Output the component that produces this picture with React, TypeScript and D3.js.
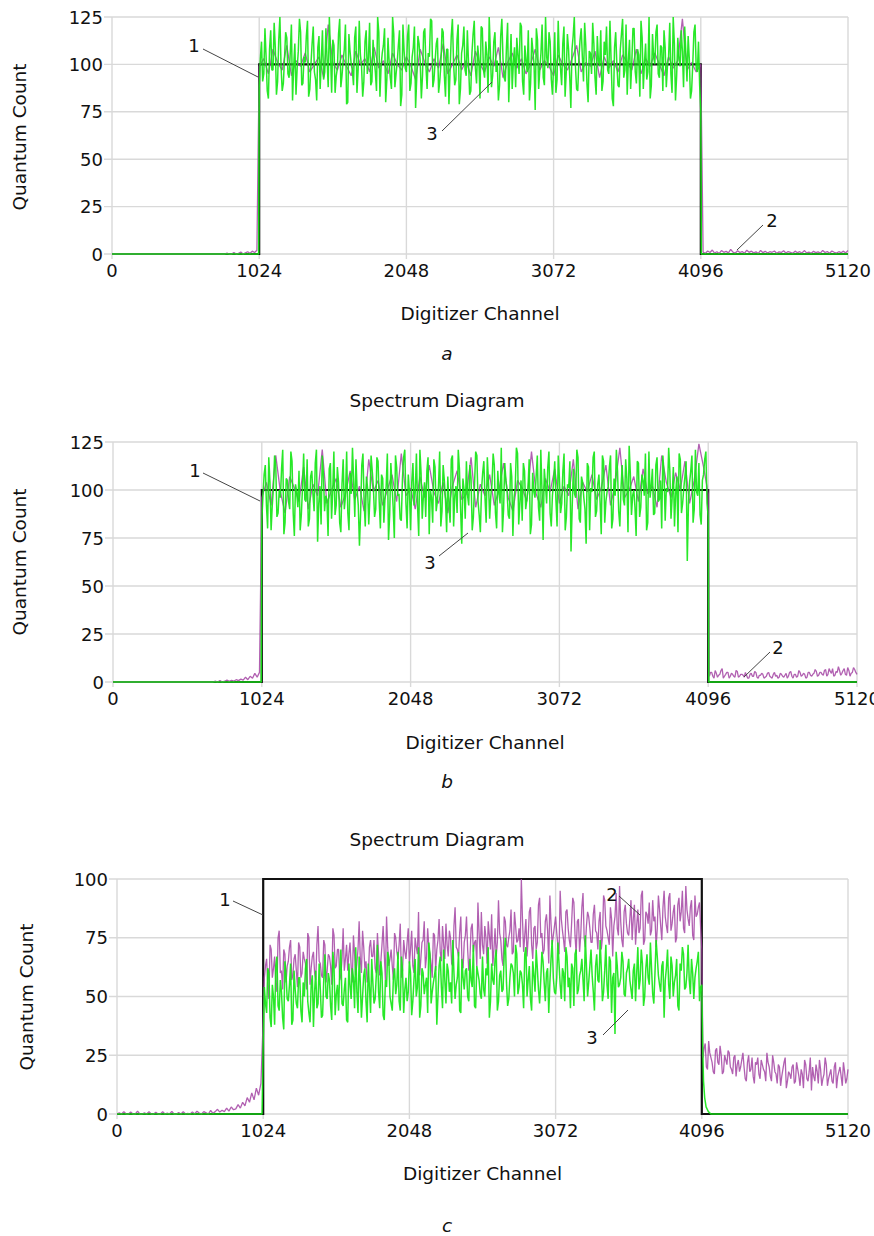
import React from "react";
import * as d3 from "d3";

// ---------- axis / tick data ----------
const channelTicks = [0, 1024, 2048, 3072, 4096, 5120];
const countTicksAB = [0, 25, 50, 75, 100, 125];
const countTicksC = [0, 25, 50, 75, 100];
const pulseEdges = [1024, 4096];
const pulseLevel = 100;
const channelMax = 5120;

// ---------- panel a ----------
// green (3): even samples at 1024 + 16i, odd samples at 1032 + 16i
const aGreenPlateau = [
  88, 112, 95, 104, 82, 118, 97, 109, 91, 125, 86, 103, 114, 93, 121, 99,
  84, 107, 117, 90, 101, 123, 87, 111, 96, 81, 115, 102, 92, 119, 88, 106,
  113, 85, 98, 124, 94, 108, 79, 116, 100, 89, 120, 97, 105, 83, 112, 95,
  122, 91, 103, 86, 117, 99, 110, 80, 114, 93, 125, 88, 101, 118, 84, 107,
  96, 121, 90, 109, 77, 115, 102, 94, 119, 87, 104, 123, 92, 111, 85, 100,
  117, 83, 108, 97, 124, 89, 113, 79, 106, 120, 94, 101, 86, 116, 98, 110,
  82, 119, 93, 105, 125, 88, 112, 96, 81, 115, 103, 91, 122, 99, 87, 109,
  114, 95, 120, 84, 102, 118, 90, 107, 76, 113, 97, 121, 89, 104, 117, 92,
  100, 85, 123, 98, 111, 83, 116, 94, 108, 125, 87, 103, 119, 91, 110, 80,
  106, 122, 93, 115, 99, 86, 112, 120, 95, 102, 78, 117, 89, 108, 124, 97,
  84, 113, 101, 119, 90, 105, 123, 87, 111, 96, 82, 116, 100, 121, 93, 109,
  118, 88, 104, 95, 125, 81, 114, 99, 107, 120, 91, 103, 86, 117, 98, 112,
  76,
];
const aGreenOdd = [
  103, 91, 119, 86, 108, 97, 122, 84, 113, 99, 90, 117, 95, 106, 81, 111,
  98, 124, 89, 104, 115, 83, 100, 120, 92, 109, 87, 118, 96, 103, 125, 85,
  110, 94, 116, 88, 102, 121, 80, 107, 97, 114, 85, 123, 99, 91, 118, 104,
  89, 113, 96, 125, 83, 106, 119, 92, 101, 87, 116, 95, 110, 78, 121, 98,
  115, 86, 104, 120, 93, 111, 82, 117, 99, 106, 124, 88, 102, 114, 91, 119,
  94, 108, 79, 115, 101, 92, 121, 87, 110, 97, 118, 84, 106, 123, 90, 103,
  120, 97, 112, 85, 107, 94, 117, 102, 89, 124, 93, 109, 80, 116, 101, 88,
  105, 122, 91, 110, 96, 81, 114, 100, 119, 87, 106, 93, 125, 98, 112, 84,
  117, 92, 103, 89, 120, 96, 108, 77, 115, 99, 86, 113, 104, 122, 90, 107,
  95, 111, 84, 102, 118, 91, 105, 97, 123, 82, 109, 100, 88, 116, 93, 121,
  102, 87, 119, 96, 108, 83, 114, 101, 92, 125, 89, 104, 117, 95, 110, 86,
  109, 99, 122, 85, 111, 94, 103, 118, 88, 106, 115, 82, 100, 121, 96, 89,
];
// purple (2): lead 640..1008 step 16, plateau 1024..4096 step 32, tail 4112..5120 step 16
const aPurpleLead = [0, 0, 0, 0, 0, 0, 0, 0, 0, 0, 0.5, 0, 0, 0.8, 0, 0.3, 1, 0, 0.6, 1.2, 0.4, 1.5, 0.8, 2];
const aPurplePlateau = [
  99, 103, 95, 108, 101, 97, 110, 94, 102, 99, 106, 96, 100, 104, 93, 121,
  101, 97, 105, 99, 94, 107, 100, 103, 96, 109, 98, 102, 95, 106, 100, 97,
  104, 99, 92, 108, 101, 96, 103, 98, 111, 95, 100, 105, 97, 102, 94, 107,
  100, 96, 104, 99, 109, 93, 101, 106, 98, 103, 95, 100, 108, 97, 102, 99,
  94, 105, 100, 97, 103, 110, 96, 101, 99, 107, 93, 104, 98, 102, 96, 105,
  101, 97, 108, 95, 103, 99, 106, 100, 94, 104, 98, 102, 124, 97, 101, 96,
  100,
];
const aPurpleTail = [
  1, 0.4, 1.6, 0.8, 2.1, 0.5, 1.2, 0.3, 1.8, 0.9, 1.4, 0.6, 2.4, 1, 0.5, 1.7,
  0.8, 1.3, 0.4, 2, 0.9, 1.5, 0.6, 1.1, 0.3, 1.9, 0.7, 1.4, 0.5, 1.2, 0.9, 1.6,
  0.4, 1.1, 0.8, 1.7, 0.5, 1.3, 0.9, 0.4, 1.5, 0.7, 1.2, 0.5, 1.8, 0.6, 1, 0.4,
  1.4, 0.7, 1.1, 0.5, 1.9, 0.8, 1.3, 0.4, 1.6, 0.9, 0.5, 1.2, 0.7, 1.5, 0.6, 1.8,
];

// ---------- panel b ----------
const bGreenPlateau = [
  84, 108, 92, 117, 79, 101, 113, 88, 96, 121, 83, 105, 90, 115, 76, 99,
  110, 87, 119, 94, 81, 107, 98, 114, 73, 102, 118, 89, 95, 111, 85, 120,
  92, 104, 78, 116, 97, 88, 109, 122, 86, 100, 71, 113, 94, 107, 82, 118,
  101, 90, 115, 80, 106, 96, 119, 87, 103, 75, 112, 98, 84, 117, 93, 108,
  79, 114, 99, 91, 121, 85, 104, 110, 77, 96, 116, 89, 102, 81, 113, 95,
  107, 83, 118, 97, 88, 111, 72, 100, 115, 92, 106, 86, 120, 94, 78, 109,
  96, 117, 85, 103, 113, 80, 98, 122, 90, 105, 87, 114, 76, 101, 119, 93,
  84, 110, 95, 116, 82, 99, 107, 91, 121, 74, 103, 112, 88, 97, 115, 81,
  106, 93, 119, 86, 101, 68, 111, 96, 117, 83, 104, 90, 114, 79, 99, 120,
  89, 108, 77, 115, 94, 102, 118, 85, 97, 110, 81, 113, 92, 106, 123, 87,
  100, 76, 114, 91, 105, 119, 83, 96, 111, 88, 117, 95, 80, 109, 101, 122,
  85, 112, 98, 78, 116, 93, 107, 63, 104, 118, 90, 99, 114, 82, 108, 120,
  86,
];
const bGreenOdd = [
  97, 113, 80, 104, 92, 118, 86, 100, 111, 77, 106, 94, 120, 88, 103, 91,
  79, 101, 95, 116, 85, 110, 89, 121, 93, 82, 108, 97, 76, 114, 99, 87,
  112, 83, 103, 90, 120, 79, 98, 105, 116, 92, 88, 119, 81, 101, 96, 110,
  86, 117, 94, 108, 83, 102, 74, 114, 91, 118, 97, 85, 106, 121, 80, 99,
  104, 92, 119, 76, 109, 97, 86, 117, 100, 83, 112, 94, 120, 89, 105, 78,
  92, 116, 81, 102, 121, 90, 106, 85, 97, 113, 79, 103, 118, 87, 100, 115,
  83, 104, 97, 119, 88, 110, 93, 78, 114, 99, 85, 107, 96, 122, 82, 105,
  114, 90, 101, 77, 109, 96, 118, 84, 100, 111, 93, 120, 81, 104, 95, 118,
  88, 110, 79, 103, 115, 91, 98, 121, 85, 107, 96, 72, 112, 101, 117, 86,
  103, 94, 118, 83, 99, 112, 80, 106, 121, 89, 101, 95, 116, 78, 109, 97,
  91, 115, 86, 108, 97, 79, 120, 102, 87, 113, 94, 105, 118, 84, 99, 110,
  96, 81, 107, 119, 88, 101, 115, 92, 110, 83, 121, 97, 87, 105, 116, 93,
];
const bPurpleLead = [0, 0, 0, 0, 0, 0, 0, 0, 0.5, 0, 0.8, 0, 0.4, 1, 0.3, 0.9, 0.5, 1.2, 0.7, 1.5, 1, 2.5, 1.2, 3, 2, 4.5, 2.5, 5];
const bPurplePlateau = [
  96, 104, 92, 118, 99, 88, 107, 101, 94, 112, 90, 103, 97, 121, 93, 100,
  106, 91, 98, 110, 95, 102, 89, 116, 99, 105, 92, 100, 108, 94, 119, 97,
  101, 90, 107, 96, 113, 99, 93, 104, 88, 102, 110, 95, 98, 117, 91, 103,
  97, 108, 92, 100, 114, 96, 89, 105, 101, 94, 120, 98, 91, 106, 99, 111,
  93, 102, 97, 116, 90, 104, 99, 108, 95, 101, 113, 92, 103, 122, 96, 100,
  107, 94, 111, 98, 102, 91, 118, 104, 96, 109, 100, 115, 93, 105, 124, 112,
  98,
];
const bPurpleTail = [
  5, 3, 6, 2.5, 4, 7, 3, 5, 2, 4.5, 3, 6, 2.5, 4, 3.5, 5,
  2, 4, 3, 5.5, 2.5, 3.5, 4.5, 2, 3, 5, 2.5, 4, 3, 2, 4.5, 3,
  3.5, 2, 5, 3, 4, 2.5, 6, 3, 4.5, 2, 5, 3.5, 4, 6.5, 3, 5,
  4, 6, 3, 7, 4.5, 3, 5.5, 8, 3.5, 6, 4, 7.5, 3, 5, 6.5, 4,
];
const bPurpleTailOdd = [
  3, 5, 2, 4.5, 3.5, 6, 2, 4, 5, 3, 4, 2.5, 5.5, 3, 4, 2.5,
  3.5, 2, 4.5, 3, 5, 2, 3.5, 4, 2.5, 4.5, 3, 2, 5, 3.5, 2.5, 4,
  2.5, 4.5, 3, 5.5, 2, 4, 3, 5, 3.5, 4, 2.5, 5, 3, 4.5, 5.5, 3.5,
  5, 3.5, 6.5, 4, 5.5, 7, 3.5, 5, 6, 4.5, 7, 3.5, 6, 4.5, 7.5, 5,
];

// ---------- panel c ----------
const cGreenPlateau = [
  30, 47, 62, 41, 55, 38, 67, 44, 52, 36, 59, 48, 64, 40, 53, 45,
  58, 39, 50, 66, 43, 55, 37, 61, 47, 53, 42, 68, 49, 57, 40, 63,
  51, 44, 70, 46, 58, 39, 55, 62, 45, 52, 67, 41, 59, 48, 64, 43,
  56, 49, 72, 45, 60, 40, 54, 66, 47, 58, 51, 69, 44, 61, 53, 48,
  65, 42, 57, 50, 71, 46, 60, 55, 43, 68, 52, 59, 38, 63, 54, 70,
  47, 61, 56, 74, 49, 58, 44, 66, 53, 62, 48, 57, 72, 45, 60, 51,
  67, 50, 59, 41, 64, 55, 70, 48, 61, 53, 75, 46, 58, 63, 50, 68,
  54, 60, 45, 71, 57, 49, 65, 52, 62, 47, 69, 56, 60, 43, 66, 58,
  51, 73, 55, 62, 48, 67, 58, 64, 46, 70, 53, 61, 57, 76, 50, 63,
  59, 44, 68, 56, 62, 52, 72, 49, 65, 58, 34, 63, 55, 69, 51, 60,
  66, 53, 61, 48, 71, 57, 64, 50, 68, 55, 62, 47, 74, 59, 52, 65,
  57, 70, 49, 63, 56, 66, 44, 61, 68, 54, 72, 51, 60, 58, 65, 48,
  55,
];
const cGreenOdd = [
  54, 43, 60, 37, 50, 63, 46, 57, 41, 65, 49, 55, 38, 61, 47, 58,
  44, 56, 62, 48, 39, 59, 52, 45, 64, 41, 57, 50, 60, 46, 69, 42,
  55, 61, 47, 53, 40, 64, 49, 58, 71, 43, 56, 50, 62, 39, 54, 66,
  47, 59, 52, 65, 42, 57, 69, 50, 44, 62, 55, 48, 67, 43, 58, 52,
  60, 48, 66, 54, 41, 62, 51, 58, 73, 47, 56, 63, 50, 67, 45, 57,
  64, 52, 47, 60, 55, 69, 43, 58, 61, 50, 66, 54, 46, 63, 57, 49,
  53, 62, 71, 48, 57, 66, 44, 59, 52, 68, 56, 49, 64, 60, 72, 51,
  61, 55, 68, 50, 63, 44, 59, 70, 53, 57, 65, 48, 62, 56, 74, 52,
  58, 64, 49, 60, 71, 54, 45, 62, 68, 51, 59, 66, 48, 63, 56, 70,
  52, 63, 57, 74, 48, 61, 55, 67, 43, 60, 69, 54, 58, 65, 50, 62,
  57, 49, 64, 60, 53, 70, 46, 62, 58, 73, 51, 60, 67, 55, 63, 41,
  62, 55, 67, 50, 59, 46, 64, 71, 53, 60, 57, 66, 49, 62, 69, 54,
];
const cGreenDecayChannels = [4102, 4108, 4116, 4126, 4142, 4160, 5120];
const cGreenDecayValues = [30, 14, 7, 3, 1, 0, 0];
const cPurpleLead = [
  0, 0.5, 0, 1, 0, 0, 0.8, 0, 0, 1.2, 0, 0, 0.5, 0, 1, 0,
  0, 0.7, 0, 0, 1, 0, 0.4, 0, 1.1, 0, 0, 0.6, 0, 1, 0, 0.3,
  0, 0.9, 0, 1.2, 0.4, 0, 1, 0.5, 0, 1.5, 0.3, 1, 2, 0.8, 1.6, 1,
  2.5, 1.2, 3, 1.8, 2.2, 4, 2.5, 5, 3.5, 7, 5, 9, 6, 11, 8, 13,
];
const cPurplePlateau = [
  40, 63, 55, 72, 58, 67, 52, 78, 61, 70, 56, 65, 74, 59, 68, 54,
  71, 60, 66, 53, 75, 62, 69, 57, 80, 64, 58, 72, 61, 67, 55, 76,
  63, 70, 59, 79, 66, 61, 73, 56, 68, 64, 82, 60, 71, 65, 58, 74,
  67, 62, 77, 59, 72, 68, 84, 63, 70, 57, 75, 66, 81, 61, 69, 73,
  64, 78, 60, 71, 86, 66, 74, 62, 79, 68, 58, 76, 70, 83, 65, 72,
  81, 67, 75, 63, 88, 70, 77, 65, 73, 84, 61, 79, 69, 74, 90, 66,
  72, 80, 64, 76, 85, 70, 67, 91, 74, 63, 82, 71, 78, 68, 86, 73,
  79, 100, 69, 83, 75, 88, 66, 80, 73, 92, 77, 70, 85, 64, 81, 76,
  84, 72, 95, 78, 69, 87, 74, 81, 90, 68, 83, 76, 94, 71, 86, 79,
  73, 89, 77, 82, 70, 93, 80, 75, 88, 67, 84, 79, 97, 74, 86, 81,
  76, 91, 83, 72, 87, 79, 95, 74, 85, 90, 78, 82, 71, 93, 80, 88,
  84, 77, 94, 81, 89, 75, 92, 86, 79, 97, 83, 88, 76, 93, 85, 90,
  70,
];
const cPurpleOdd = [
  58, 66, 49, 70, 62, 56, 75, 60, 53, 68, 63, 71, 57, 66, 61, 73,
  58, 69, 64, 77, 55, 67, 60, 72, 65, 59, 74, 56, 68, 63, 79, 62,
  70, 57, 66, 61, 72, 68, 63, 76, 59, 70, 66, 78, 62, 56, 71, 67,
  74, 60, 68, 65, 80, 57, 71, 66, 63, 77, 69, 72, 58, 74, 66, 79,
  70, 63, 75, 68, 59, 73, 82, 67, 71, 64, 77, 61, 74, 69, 80, 66,
  72, 78, 64, 80, 71, 67, 84, 62, 76, 70, 66, 81, 73, 63, 77, 86,
  68, 75, 82, 70, 63, 79, 73, 77, 66, 84, 72, 75, 87, 69, 80, 74,
  71, 83, 76, 67, 86, 72, 79, 70, 89, 75, 68, 82, 78, 93, 72, 80,
  77, 68, 83, 74, 86, 79, 71, 92, 76, 82, 69, 88, 75, 80, 84, 73,
  85, 78, 70, 86, 75, 91, 78, 72, 83, 80, 94, 76, 82, 71, 89, 77,
  83, 74, 89, 80, 77, 93, 72, 86, 81, 76, 91, 84, 79, 87, 74, 95,
  80, 92, 78, 86, 73, 89, 82, 95, 77, 87, 80, 91, 74, 84, 88, 79,
];
// tail: even samples at 4112 + 16i, odd at 4104 + 16i
const cPurpleTail = [
  28, 20, 31, 24, 18, 27, 22, 29, 17, 25, 21, 26, 19, 24, 16, 23,
  20, 26, 15, 22, 18, 24, 13, 21, 17, 23, 19, 14, 22, 16, 25, 18,
  13, 20, 16, 22, 11, 18, 15, 21, 14, 19, 12, 17, 23, 15, 18, 10,
  16, 21, 13, 19, 15, 24, 12, 17, 14, 20, 11, 18, 16, 22, 13, 19,
];
const cPurpleTailOdd = [
  24, 30, 19, 26, 22, 17, 28, 21, 25, 18, 23, 27, 20, 17, 25, 21,
  18, 23, 20, 14, 25, 19, 16, 22, 24, 15, 21, 18, 26, 20, 14, 22,
  17, 21, 12, 19, 24, 14, 17, 20, 13, 22, 16, 19, 11, 21, 14, 24,
  20, 14, 18, 23, 12, 17, 21, 15, 19, 13, 22, 16, 20, 12, 18, 15,
];

// ---------- helpers ----------
type Pt = [number, number];
const run = (start: number, step: number, values: number[]): Pt[] =>
  values.map((v, i) => [start + i * step, v] as Pt);
// odd samples sit halfway between even samples (offset may be negative)
const weave = (start: number, step: number, even: number[], odd: number[], oddOffset: number): Pt[] => {
  const pts: Pt[] = [];
  even.forEach((v, i) => {
    const x = start + i * step;
    if (oddOffset < 0 && i < odd.length) pts.push([x + oddOffset, odd[i]]);
    pts.push([x, v]);
    if (oddOffset > 0 && i < odd.length) pts.push([x + oddOffset, odd[i]]);
  });
  return pts;
};
const pairs = (xs: number[], ys: number[]): Pt[] => xs.map((x, i) => [x, ys[i]] as Pt);
const flat = (ch: number): Pt[] => [[0, 0], [ch, 0]];

const pulse: Pt[] = [
  [0, 0],
  [pulseEdges[0], 0],
  [pulseEdges[0], pulseLevel],
  [pulseEdges[1], pulseLevel],
  [pulseEdges[1], 0],
  [channelMax, 0],
];

const aGreen: Pt[] = [...flat(1020), ...weave(1024, 16, aGreenPlateau, aGreenOdd, 8), ...pairs([4100, channelMax], [0, 0])];
const aPurple: Pt[] = [...flat(624), ...run(640, 16, aPurpleLead), ...run(1024, 32, aPurplePlateau), ...run(4112, 16, aPurpleTail)];
const bGreen: Pt[] = [...flat(1020), ...weave(1024, 16, bGreenPlateau, bGreenOdd, 8), ...pairs([4100, channelMax], [0, 0])];
const bPurple: Pt[] = [
  ...flat(560), ...run(576, 16, bPurpleLead), ...run(1024, 32, bPurplePlateau),
  ...weave(4112, 16, bPurpleTail, bPurpleTailOdd, -8),
];
const cGreen: Pt[] = [...flat(1016), ...weave(1024, 16, cGreenPlateau, cGreenOdd, 8), ...pairs(cGreenDecayChannels, cGreenDecayValues)];
const cPurple: Pt[] = [
  ...run(0, 16, cPurpleLead), ...weave(1024, 16, cPurplePlateau, cPurpleOdd, 8),
  ...weave(4112, 16, cPurpleTail, cPurpleTailOdd, -8),
];

const FONT = "'DejaVu Sans', Verdana, sans-serif";
const GRID = "#d9d9d9";
const GREEN = "#16e616";
const PURPLE = "#a344a3";

type Note = { label: string; tx: number; ty: number; x1: number; y1: number; x2: number; y2: number };

type PanelProps = {
  id: string;
  x0: number; x1: number; yTop: number; yBot: number;
  yMax: number; yTicks: number[];
  purple: Pt[]; green: Pt[];
  notes: Note[];
  title?: { x: number; y: number };
  yLabel: { x: number; y: number };
  xLabelY: number;
  caption: { text: string; y: number };
};

function Panel(p: PanelProps) {
  const xs = d3.scaleLinear().domain([0, channelMax]).range([p.x0, p.x1]);
  const ys = d3.scaleLinear().domain([0, p.yMax]).range([p.yBot, p.yTop]);
  const line = d3.line<Pt>().x((d) => xs(d[0])).y((d) => ys(d[1]));
  const clipId = `clip-${p.id}`;
  return (
    <g>
      <defs>
        <clipPath id={clipId}>
          <rect x={p.x0} y={p.yTop - 1} width={p.x1 - p.x0 + 1} height={p.yBot - p.yTop + 3} />
        </clipPath>
      </defs>
      {p.yTicks.map((t) => (
        <line key={`h${t}`} x1={p.x0 - 8} x2={p.x1} y1={ys(t)} y2={ys(t)} stroke={GRID} strokeWidth={1.4} />
      ))}
      {channelTicks.map((t) => (
        <line key={`v${t}`} x1={xs(t)} x2={xs(t)} y1={p.yTop} y2={p.yBot + 5} stroke={GRID} strokeWidth={1.4} />
      ))}
      <g clipPath={`url(#${clipId})`}>
        <path d={line(pulse) || ""} fill="none" stroke="#111" strokeWidth={2.2} />
        <path d={line(p.purple) || ""} fill="none" stroke={PURPLE} strokeWidth={1.3} strokeOpacity={0.85} strokeLinejoin="bevel" />
        <path d={line(p.green) || ""} fill="none" stroke={GREEN} strokeWidth={1.5} strokeOpacity={0.92} strokeLinejoin="bevel" />
      </g>
      {p.notes.map((n) => (
        <g key={n.label}>
          <line x1={n.x1} y1={n.y1} x2={n.x2} y2={n.y2} stroke="#444" strokeWidth={1} />
          <text x={n.tx} y={n.ty} textAnchor="middle" dominantBaseline="central" fontFamily={FONT} fontSize={18} fill="#111">
            {n.label}
          </text>
        </g>
      ))}
      {p.yTicks.map((t) => (
        <text key={`yl${t}`} x={p.x0 - 9} y={ys(t)} textAnchor="end" dominantBaseline="central" fontFamily={FONT} fontSize={18} fill="#111">
          {t}
        </text>
      ))}
      {channelTicks.map((t) => (
        <text key={`xl${t}`} x={xs(t)} y={p.yBot + 23} textAnchor="middle" fontFamily={FONT} fontSize={18} fill="#111">
          {t}
        </text>
      ))}
      <text x={(p.x0 + p.x1) / 2} y={p.xLabelY} textAnchor="middle" fontFamily={FONT} fontSize={18.5} fill="#111">
        Digitizer Channel
      </text>
      <text
        transform={`translate(${p.yLabel.x},${p.yLabel.y}) rotate(-90)`}
        textAnchor="middle"
        dominantBaseline="central"
        fontFamily={FONT}
        fontSize={18.5}
        fill="#111"
      >
        Quantum Count
      </text>
      {p.title && (
        <text x={p.title.x} y={p.title.y} textAnchor="middle" fontFamily={FONT} fontSize={18.5} fill="#111">
          Spectrum Diagram
        </text>
      )}
      <text x={447} y={p.caption.y} textAnchor="middle" fontFamily={FONT} fontSize={18.5} fontStyle="italic" fill="#111">
        {p.caption.text}
      </text>
    </g>
  );
}

export default function App() {
  return (
    <svg
      width={874}
      height={1236}
      viewBox="0 0 874 1236"
      style={{ position: "absolute", left: 0, top: 0, display: "block", background: "#fff" }}
    >
      <rect x={0} y={0} width={874} height={1236} fill="#fff" />
      <Panel
        id="a"
        x0={112} x1={848} yTop={17} yBot={254}
        yMax={125} yTicks={countTicksAB}
        purple={aPurple} green={aGreen}
        notes={[
          { label: "1", tx: 194, ty: 45, x1: 203, y1: 49, x2: 258, y2: 77 },
          { label: "3", tx: 432, ty: 133, x1: 442, y1: 131, x2: 492, y2: 82 },
          { label: "2", tx: 772, ty: 220, x1: 763, y1: 225, x2: 737, y2: 250 },
        ]}
        yLabel={{ x: 19.5, y: 137 }}
        xLabelY={320}
        caption={{ text: "a", y: 360 }}
      />
      <Panel
        id="b"
        x0={113} x1={857} yTop={442} yBot={682}
        yMax={125} yTicks={countTicksAB}
        purple={bPurple} green={bGreen}
        notes={[
          { label: "1", tx: 195, ty: 470, x1: 203, y1: 473, x2: 260, y2: 501 },
          { label: "3", tx: 430, ty: 562, x1: 439, y1: 556, x2: 468, y2: 533 },
          { label: "2", tx: 778, ty: 647, x1: 770, y1: 652, x2: 744, y2: 677 },
        ]}
        title={{ x: 437, y: 407 }}
        yLabel={{ x: 19.5, y: 562 }}
        xLabelY={749}
        caption={{ text: "b", y: 788 }}
      />
      <Panel
        id="c"
        x0={117} x1={848} yTop={879} yBot={1114}
        yMax={100} yTicks={countTicksC}
        purple={cPurple} green={cGreen}
        notes={[
          { label: "1", tx: 225, ty: 899, x1: 233, y1: 901, x2: 263, y2: 915 },
          { label: "2", tx: 612, ty: 894, x1: 619, y1: 896, x2: 640, y2: 915 },
          { label: "3", tx: 592, ty: 1037, x1: 603, y1: 1035, x2: 628, y2: 1010 },
        ]}
        title={{ x: 437, y: 846 }}
        yLabel={{ x: 26, y: 997 }}
        xLabelY={1180}
        caption={{ text: "c", y: 1232 }}
      />
    </svg>
  );
}
